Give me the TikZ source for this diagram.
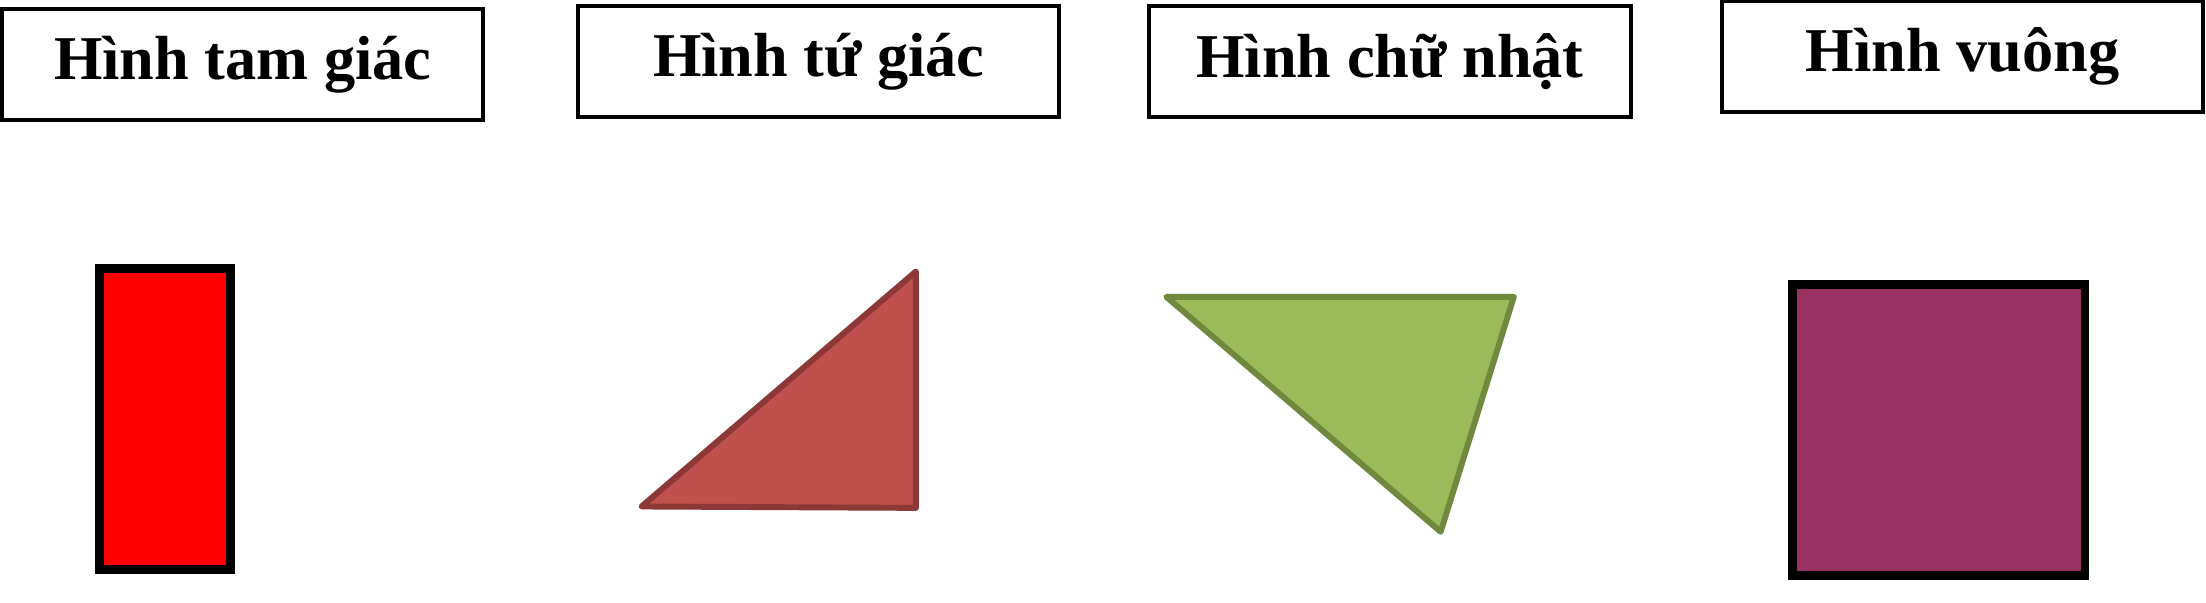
\documentclass[tikz,border=0pt]{standalone}
\usepackage{fontspec}
\setmainfont{Liberation Serif}
\usepackage{tikz}
\usetikzlibrary{positioning}
\definecolor{tamred}{HTML}{FF0000}
\definecolor{tufill}{HTML}{C0504D}
\definecolor{tuline}{HTML}{8C3836}
\definecolor{chufill}{HTML}{9BBB59}
\definecolor{chuline}{HTML}{71893F}
\definecolor{vuongfill}{HTML}{983263}
\tikzstyle{namebox} = [rectangle, minimum width=3.42cm, minimum
height=0.79cm, text centered, draw=black, line width=0.8pt, font=\fontsize{12.6}{15}\selectfont\bfseries]
\tikzstyle{thickshape} = [draw=black, line width=1.8pt]
\tikzstyle{softshape} = [line width=1.2pt, line join=round]

\begin{document}
\begin{tikzpicture}
      \useasboundingbox (0,0) rectangle (15.68,-4.28);
      \node (tam) [namebox] at (1.725,-0.46) {Hình tam giác};
      \node (tu) [namebox] at (5.82,-0.44) {Hình tứ giác};
      \node (chu) [namebox] at (9.88,-0.44) {Hình chữ nhật};
      \node (vuong) [namebox] at (13.95,-0.40) {Hình vuông};

      \draw [thickshape, fill=tamred] (0.71,-1.91) rectangle (1.64,-4.05);
      \draw [softshape, draw=tuline, fill=tufill] (4.56,-3.60) -- (6.51,-1.93) -- (6.51,-3.61) -- cycle;
      \draw [softshape, draw=chuline, fill=chufill] (8.29,-2.11) -- (10.76,-2.11) -- (10.24,-3.78) -- cycle;
      \draw [thickshape, fill=vuongfill] (12.74,-2.02) rectangle (14.82,-4.09);
    \end{tikzpicture}
\end{document}
